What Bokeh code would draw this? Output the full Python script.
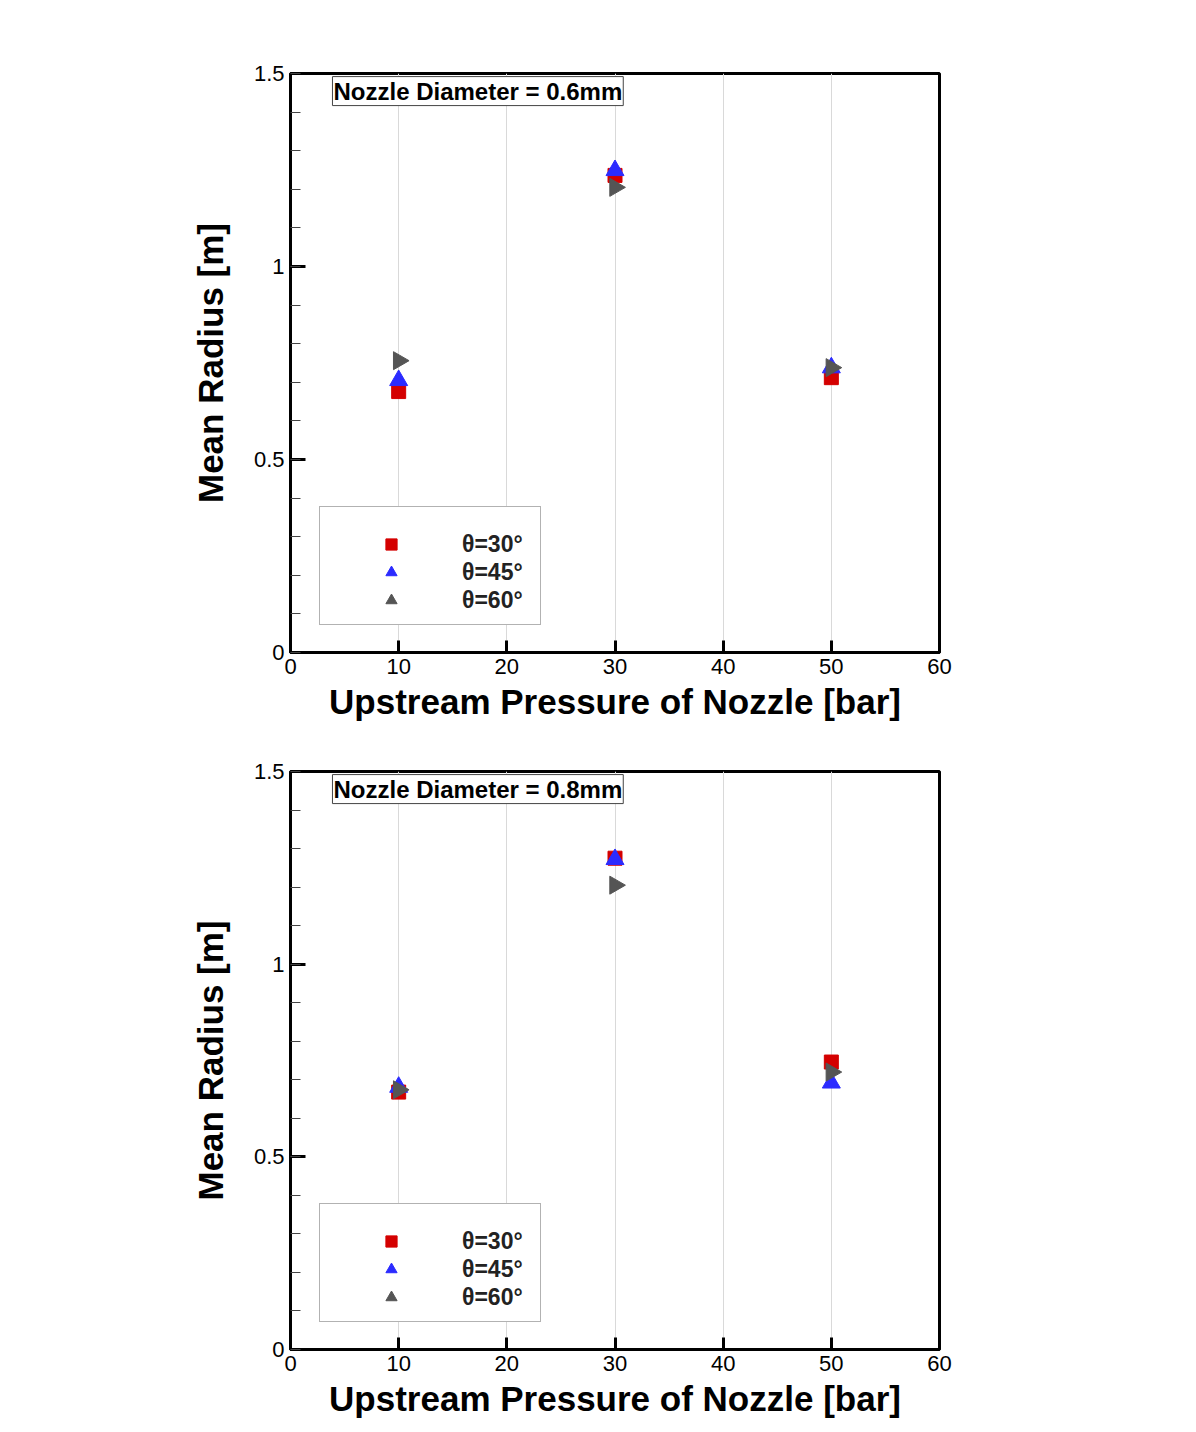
import numpy as np
from bokeh.plotting import figure
from bokeh.layouts import column
from bokeh.models import (Range1d, SingleIntervalTicker, Legend, LegendItem, Label,
                          ColumnDataSource)
from bokeh.embed import file_html
from bokeh.resources import INLINE

pressure = [10, 30, 50]
d06_theta30 = [0.676, 1.236, 0.712]
d06_theta45 = [0.705, 1.249, 0.738]
d06_theta60 = [0.756, 1.205, 0.738]
d08_theta30 = [0.668, 1.275, 0.746]
d08_theta45 = [0.681, 1.272, 0.692]
d08_theta60 = [0.674, 1.205, 0.720]
series_labels = ["θ=30°", "θ=45°", "θ=60°"]
titles = ["Nozzle Diameter = 0.6mm", "Nozzle Diameter = 0.8mm"]
x_label = "Upstream Pressure of Nozzle [bar]"
y_label = "Mean Radius [m]"
y_tick_labels = {0: "0", 0.5: "0.5", 1: "1", 1.5: "1.5"}

FONT = "Liberation Sans"


def make_plot(title, s30, s45, s60, height, top, bottom):
    p = figure(width=1180, height=height, output_backend="svg", toolbar_location=None,
               x_range=Range1d(0, 60), y_range=Range1d(0, 1.5),
               min_border_left=290, min_border_right=241,
               min_border_top=top, min_border_bottom=bottom)
    p.background_fill_color = "white"
    p.border_fill_color = "white"
    p.outline_line_color = "black"
    p.outline_line_width = 3
    p.outline_line_alpha = 1

    p.xaxis.ticker = SingleIntervalTicker(interval=10, num_minor_ticks=0)
    p.yaxis.ticker = SingleIntervalTicker(interval=0.5, num_minor_ticks=5)
    p.yaxis.major_label_overrides = y_tick_labels
    for ax in (p.xaxis[0], p.yaxis[0]):
        ax.axis_line_width = 3
        ax.axis_line_color = "black"
        ax.major_tick_in = 15
        ax.major_tick_out = 0
        ax.major_tick_line_width = 3
        ax.major_tick_line_color = "black"
        ax.major_label_text_font = FONT
        ax.major_label_text_font_size = "22px"
        ax.major_label_text_color = "black"
        ax.major_label_standoff = 6
        ax.axis_label_text_font = FONT
        ax.axis_label_text_font_style = "bold"
        ax.axis_label_text_color = "black"
    p.xaxis.major_tick_in = 12
    p.yaxis.minor_tick_in = 10
    p.yaxis.minor_tick_out = 0
    p.yaxis.minor_tick_line_color = "#444444"
    p.yaxis.minor_tick_line_width = 1
    p.xaxis.axis_label = x_label
    p.yaxis.axis_label = y_label
    p.xaxis.axis_label_text_font_size = "35px"
    p.yaxis.axis_label_text_font_size = "35px"
    p.xaxis.axis_label_standoff = 5
    p.yaxis.axis_label_standoff = 21

    p.xgrid.ticker = SingleIntervalTicker(interval=10)
    p.xgrid.grid_line_color = "#d9d9d9"
    p.xgrid.grid_line_width = 1
    p.ygrid.visible = False

    src = ColumnDataSource(dict(x=pressure, s30=s30, s45=s45, s60=s60))
    r1 = p.scatter("x", "s30", source=src, marker="square", size=14,
                   fill_color="#d40000", line_color="#d40000")
    r2 = p.scatter("x", "s45", source=src, marker="triangle", size=18,
                   fill_color="#2b2bff", line_color="#2b2bff")
    r3 = p.scatter("x", "s60", source=src, marker="triangle", size=18, angle=-np.pi / 2,
                   fill_color="#555555", line_color="#555555")

    legend = Legend(items=[LegendItem(label=series_labels[0], renderers=[r1]),
                           LegendItem(label=series_labels[1], renderers=[r2]),
                           LegendItem(label=series_labels[2], renderers=[r3])],
                    location=(29, 27), margin=0, padding=10, spacing=0,
                    title=" ", title_text_font_size="1px", title_standoff=12,
                    glyph_width=122, glyph_height=28, label_height=28,
                    label_standoff=10, label_width=68,
                    label_text_font=FONT, label_text_font_style="bold",
                    label_text_font_size="23px", label_text_color="#222222",
                    border_line_color="#666666", border_line_width=1,
                    background_fill_color="white", background_fill_alpha=1)
    p.add_layout(legend)

    lab = Label(x=3.88, y=1.492, text=title, anchor="top_left",
                text_font=FONT, text_font_style="bold", text_font_size="24px",
                text_color="black", border_line_color="#444444", border_line_width=1,
                background_fill_color="white", padding=1)
    p.add_layout(lab)
    return p


p1 = make_plot(titles[0], d06_theta30, d06_theta45, d06_theta60, 740, 73, 88)
p2 = make_plot(titles[1], d08_theta30, d08_theta45, d08_theta60, 680, 31, 70)
layout = column(p1, p2, spacing=0)

open("out.html", "w").write(file_html(layout, INLINE))
